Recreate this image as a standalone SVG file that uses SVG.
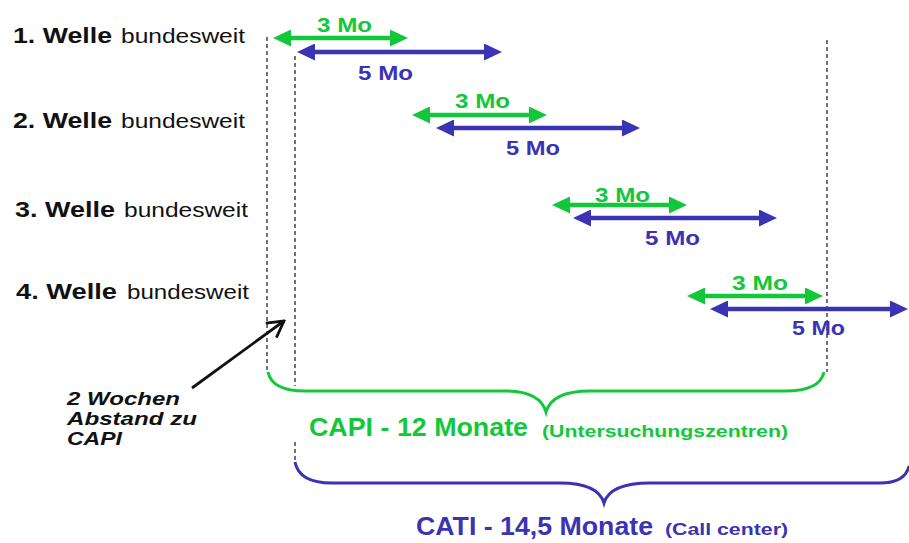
<svg xmlns="http://www.w3.org/2000/svg" width="909" height="543" viewBox="0 0 909 543">
<style>
.lbl{font-family:"Liberation Sans",Arial,sans-serif;fill:#111}
.b{font-weight:bold}
.g{fill:#12c83a}
.bl{fill:#3a33b3}
.mo{font-family:"Liberation Sans",Arial,sans-serif;font-weight:bold;font-size:21px}
.ga{stroke:#12c83a;stroke-width:4.5;fill:none}
.ba{stroke:#3a33b3;stroke-width:4.5;fill:none}
.dash{stroke:#444;stroke-width:1.5;stroke-dasharray:4 3;fill:none}
.brace-g{stroke:#12c83a;stroke-width:3;fill:none}
.brace-b{stroke:#3a33b3;stroke-width:3;fill:none}
</style>
<defs>
<marker id="hg" markerUnits="userSpaceOnUse" viewBox="0 0 18 17" markerWidth="18" markerHeight="17" refX="9" refY="8.5" orient="auto-start-reverse"><path d="M0,0 L18,8.5 L0,17 z" fill="#12c83a"/></marker>
<marker id="hb" markerUnits="userSpaceOnUse" viewBox="0 0 18 17" markerWidth="18" markerHeight="17" refX="9" refY="8.5" orient="auto-start-reverse"><path d="M0,0 L18,8.5 L0,17 z" fill="#3a33b3"/></marker>
<marker id="ho" markerUnits="userSpaceOnUse" viewBox="0 0 20 20" markerWidth="20" markerHeight="20" refX="18" refY="10" orient="auto"><path d="M2,1 L18,10 L2,19" fill="none" stroke="#111" stroke-width="2.8"/></marker>
</defs>
<rect width="909" height="543" fill="#fff"/>

<g id="row1">
<text class="lbl b" x="13" y="43" font-size="22" textLength="99" lengthAdjust="spacingAndGlyphs">1. Welle</text>
<text class="lbl" x="121" y="43" font-size="20" textLength="124" lengthAdjust="spacingAndGlyphs">bundesweit</text>
</g>
<g id="row2">
<text class="lbl b" x="13" y="128" font-size="22" textLength="99" lengthAdjust="spacingAndGlyphs">2. Welle</text>
<text class="lbl" x="121" y="128" font-size="20" textLength="124" lengthAdjust="spacingAndGlyphs">bundesweit</text>
</g>
<g id="row3">
<text class="lbl b" x="15" y="217" font-size="22" textLength="100" lengthAdjust="spacingAndGlyphs">3. Welle</text>
<text class="lbl" x="124" y="217" font-size="20" textLength="124" lengthAdjust="spacingAndGlyphs">bundesweit</text>
</g>
<g id="row4">
<text class="lbl b" x="16" y="299" font-size="22" textLength="101" lengthAdjust="spacingAndGlyphs">4. Welle</text>
<text class="lbl" x="127" y="299" font-size="20" textLength="122" lengthAdjust="spacingAndGlyphs">bundesweit</text>
</g>

<g id="guides">
<line class="dash" x1="267" y1="37" x2="267" y2="372"/>
<line class="dash" x1="295" y1="56" x2="295" y2="386"/>
<line class="dash" x1="295" y1="442" x2="295" y2="462"/>
<line class="dash" x1="827" y1="40" x2="827" y2="372"/>
</g>

<g id="connectors">
<line class="ga" x1="282" y1="38" x2="399" y2="38" marker-start="url(#hg)" marker-end="url(#hg)"/>
<line class="ba" x1="306" y1="52" x2="493" y2="52" marker-start="url(#hb)" marker-end="url(#hb)"/>
<line class="ga" x1="421" y1="115" x2="538" y2="115" marker-start="url(#hg)" marker-end="url(#hg)"/>
<line class="ba" x1="445" y1="128" x2="631" y2="128" marker-start="url(#hb)" marker-end="url(#hb)"/>
<line class="ga" x1="561" y1="205" x2="678" y2="205" marker-start="url(#hg)" marker-end="url(#hg)"/>
<line class="ba" x1="582" y1="218" x2="768" y2="218" marker-start="url(#hb)" marker-end="url(#hb)"/>
<line class="ga" x1="696" y1="296" x2="814" y2="296" marker-start="url(#hg)" marker-end="url(#hg)"/>
<line class="ba" x1="719" y1="309" x2="899" y2="309" marker-start="url(#hb)" marker-end="url(#hb)"/>
<line x1="192" y1="388" x2="284" y2="321" stroke="#111" stroke-width="2.8" marker-end="url(#ho)"/>
</g>

<g id="durations">
<text class="mo g" x="317" y="32" textLength="55" lengthAdjust="spacingAndGlyphs">3 Mo</text>
<text class="mo bl" x="358" y="80" textLength="55" lengthAdjust="spacingAndGlyphs">5 Mo</text>
<text class="mo g" x="455" y="108" textLength="55" lengthAdjust="spacingAndGlyphs">3 Mo</text>
<text class="mo bl" x="506" y="155" textLength="54" lengthAdjust="spacingAndGlyphs">5 Mo</text>
<text class="mo g" x="595" y="202" textLength="55" lengthAdjust="spacingAndGlyphs">3 Mo</text>
<text class="mo bl" x="645" y="245" textLength="55" lengthAdjust="spacingAndGlyphs">5 Mo</text>
<text class="mo g" x="732" y="290" textLength="56" lengthAdjust="spacingAndGlyphs">3 Mo</text>
<text class="mo bl" x="792" y="335" textLength="53" lengthAdjust="spacingAndGlyphs">5 Mo</text>
</g>

<g id="note">
<text class="lbl b" font-style="italic" font-size="19" x="67" y="405" textLength="113" lengthAdjust="spacingAndGlyphs">2 Wochen</text>
<text class="lbl b" font-style="italic" font-size="19" x="67" y="425" textLength="130" lengthAdjust="spacingAndGlyphs">Abstand zu</text>
<text class="lbl b" font-style="italic" font-size="19" x="67" y="445" textLength="55" lengthAdjust="spacingAndGlyphs">CAPI</text>
</g>

<g id="capi">
<path class="brace-g" d="M268,372 Q272,391 305,391 L505,391 Q540,391 546,412 Q552,391 590,391 L785,391 Q820,391 824,372"/>
<text class="lbl b g" x="309" y="436" font-size="25" textLength="219" lengthAdjust="spacingAndGlyphs">CAPI - 12 Monate</text>
<text class="lbl b g" x="542" y="437" font-size="16.5" textLength="246" lengthAdjust="spacingAndGlyphs">(Untersuchungszentren)</text>
</g>

<g id="cati">
<path class="brace-b" d="M295,462 Q299,483 332,483 L560,483 Q598,483 604,503 Q610,483 650,483 L880,483 Q905,483 909,466"/>
<text class="lbl b bl" x="416" y="535" font-size="25" textLength="237" lengthAdjust="spacingAndGlyphs">CATI - 14,5 Monate</text>
<text class="lbl b bl" x="665" y="535" font-size="16.5" textLength="123" lengthAdjust="spacingAndGlyphs">(Call center)</text>
</g>
</svg>
